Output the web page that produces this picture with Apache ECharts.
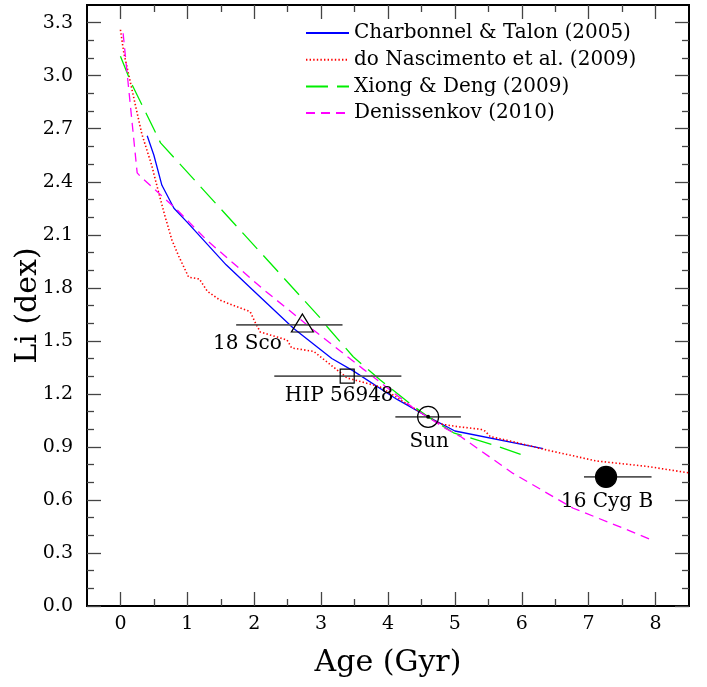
<!DOCTYPE html>
<html>
<head>
<meta charset="utf-8">
<script src="https://cdn.jsdelivr.net/npm/echarts@6/dist/echarts.min.js"></script>
<style>
  html, body { margin: 0; padding: 0; background: #fff; }
  #chart { width: 707px; height: 687px; }
</style>
</head>
<body>
<div id="chart"></div>
<script>
// Model tracks: lithium abundance (dex) against stellar age (Gyr)
const ctAge = [0.40, 0.50, 0.62, 0.80, 1.00, 1.58, 1.97, 2.59, 3.16, 3.48, 4.13, 4.60, 5.00, 6.32];
const ctLi  = [2.66, 2.55, 2.38, 2.25, 2.17, 1.93, 1.79, 1.57, 1.40, 1.33, 1.17, 1.07, 0.99, 0.89];

const dnAge = [0.00, 0.05, 0.15, 0.22, 0.32, 0.47, 0.57, 0.67, 0.77, 0.87, 1.02, 1.18, 1.30, 1.49, 1.69, 1.94, 2.02, 2.09, 2.49, 2.56, 2.89, 3.09, 3.24, 3.39, 3.88, 4.38, 4.78, 5.03, 5.38, 5.45, 5.53, 5.87, 6.32, 7.12, 7.87, 8.50];
const dnLi  = [3.26, 3.13, 2.96, 2.84, 2.67, 2.49, 2.34, 2.20, 2.07, 1.98, 1.86, 1.85, 1.78, 1.73, 1.70, 1.665, 1.60, 1.55, 1.505, 1.46, 1.44, 1.38, 1.335, 1.29, 1.24, 1.12, 1.03, 1.015, 1.00, 0.99, 0.958, 0.93, 0.887, 0.82, 0.79, 0.753];

const xdAge = [0.00, 0.16, 0.60, 3.01, 3.09, 3.48, 3.88, 4.38, 4.60, 4.98, 5.63, 6.00];
const xdLi  = [3.11, 2.96, 2.62, 1.62, 1.58, 1.41, 1.28, 1.13, 1.07, 0.98, 0.905, 0.855];

const dkAge = [0.04, 0.25, 0.30, 0.85, 1.29, 2.14, 2.89, 3.63, 4.38, 4.88, 5.08, 5.87, 6.77, 7.52, 7.98];
const dkLi  = [3.24, 2.45, 2.43, 2.24, 2.07, 1.79, 1.56, 1.34, 1.12, 1.00, 0.96, 0.75, 0.553, 0.44, 0.368];

const trackNames = ['Charbonnel & Talon (2005)', 'do Nascimento et al. (2009)', 'Xiong & Deng (2009)', 'Denissenkov (2010)'];

// Observed solar twins
const starNames = ['18 Sco', 'HIP 56948', 'Sun', '16 Cyg B'];
const starAge   = [2.72, 3.39, 4.60, 7.26];
const starAgeLo = [1.73, 2.30, 4.11, 6.93];
const starAgeHi = [3.32, 4.20, 5.09, 7.94];
const starLi    = [1.59, 1.30, 1.07, 0.73];

// Axis ticks
const xMajorTicks = [0, 1, 2, 3, 4, 5, 6, 7, 8];
const xMinorTicks = [0.5, 1.5, 2.5, 3.5, 4.5, 5.5, 6.5, 7.5];
const yMajorTicks = [0.0, 0.3, 0.6, 0.9, 1.2, 1.5, 1.8, 2.1, 2.4, 2.7, 3.0, 3.3];
const yMinorTicks = [0.1, 0.2, 0.4, 0.5, 0.7, 0.8, 1.0, 1.1, 1.3, 1.4, 1.6, 1.7, 1.9, 2.0, 2.2, 2.3, 2.5, 2.6, 2.8, 2.9, 3.1, 3.2];

// Marker styling for each star
const starStyle = [
  { symbol: 'triangle', size: [22, 18], offset: [0, -2], fill: 'none', label: [-55, 19] },
  { symbol: 'rect', size: 14, offset: [0, 0], fill: 'none', label: [-8, 20] },
  { symbol: 'circle', size: 21, offset: [0, 0], fill: 'none', label: [1, 25] },
  { symbol: 'circle', size: 21, offset: [0, 0], fill: '#000', label: [1, 25] }
];

const FONT = 'DejaVu Serif';
const zip = (a, b) => a.map((v, i) => [v, b[i]]);

function xAxisDef(position, ticks, len, withLabels) {
  return {
    type: 'value', position: position, min: -0.5, max: 8.5,
    axisLine: { show: true, onZero: false, lineStyle: { color: '#000', width: 2 } },
    axisTick: { show: true, inside: true, length: len, customValues: ticks, lineStyle: { color: '#444', width: 1.3 } },
    axisLabel: { show: withLabels, customValues: ticks, margin: 9, fontFamily: FONT, fontSize: 19, color: '#000' },
    splitLine: { show: false },
    name: withLabels ? 'Age (Gyr)' : '',
    nameLocation: 'middle', nameGap: 42, nameMoveOverlap: false,
    nameTextStyle: { fontFamily: FONT, fontSize: 30, color: '#000' }
  };
}
function yAxisDef(position, ticks, len, withLabels) {
  return {
    type: 'value', position: position, min: 0, max: 3.4,
    axisLine: { show: true, onZero: false, lineStyle: { color: '#000', width: 2 } },
    axisTick: { show: true, inside: true, length: len, customValues: ticks, lineStyle: { color: '#444', width: 1.3 } },
    axisLabel: { show: withLabels, customValues: ticks, margin: 14, fontFamily: FONT, fontSize: 19, color: '#000',
                 formatter: v => Number(v).toFixed(1) },
    splitLine: { show: false },
    name: withLabels ? 'Li (dex)' : '',
    nameLocation: 'middle', nameGap: 44, nameMoveOverlap: false,
    nameTextStyle: { fontFamily: FONT, fontSize: 30, color: '#000' }
  };
}

function track(name, ages, lis, color, dash, width) {
  return {
    type: 'line', name: name, data: zip(ages, lis),
    showSymbol: false, symbol: 'none', z: 2, animation: false,
    lineStyle: { color: color, width: width, type: dash },
    itemStyle: { color: color }
  };
}

const chart = echarts.init(document.getElementById('chart'), null, { renderer: 'canvas' });
chart.setOption({
  backgroundColor: '#fff',
  animation: false,
  grid: { left: 87, right: 18, top: 5, bottom: 81, containLabel: false, outerBoundsMode: 'none' },
  xAxis: [
    xAxisDef('bottom', xMajorTicks, 14, true),
    xAxisDef('bottom', xMinorTicks, 7, false),
    xAxisDef('top', xMajorTicks, 14, false),
    xAxisDef('top', xMinorTicks, 7, false)
  ],
  yAxis: [
    yAxisDef('left', yMajorTicks, 14, true),
    yAxisDef('left', yMinorTicks, 7, false),
    yAxisDef('right', yMajorTicks, 14, false),
    yAxisDef('right', yMinorTicks, 7, false)
  ],
  legend: {
    data: trackNames, orient: 'vertical', left: 305, top: 23, padding: 0,
    itemWidth: 43, itemHeight: 14, itemGap: 6.7,
    itemStyle: { opacity: 0 },
    textStyle: { fontFamily: FONT, fontSize: 20, lineHeight: 20, color: '#000' },
    selectedMode: false
  },
  series: [
    track(trackNames[0], ctAge, ctLi, '#0000ff', 'solid', 1.3),
    track(trackNames[1], dnAge, dnLi, '#ff0000', [1.4, 2.2], 1.6),
    track(trackNames[2], xdAge, xdLi, '#00ee00', [22, 9], 1.3),
    track(trackNames[3], dkAge, dkLi, '#ff00ff', [9, 6], 1.3),
    {
      // horizontal age uncertainty bars
      type: 'custom', name: 'ageBars', z: 3,
      data: starAge.map((a, i) => [a, starAgeLo[i], starAgeHi[i], starLi[i]]),
      encode: { x: [0, 1, 2], y: 3 },
      renderItem: (params, api) => {
        const lo = api.coord([api.value(1), api.value(3)]);
        const hi = api.coord([api.value(2), api.value(3)]);
        return { type: 'line', shape: { x1: lo[0], y1: lo[1], x2: hi[0], y2: hi[1] },
                 style: { stroke: '#555', lineWidth: 1.8 } };
      }
    },
    {
      type: 'scatter', name: 'stars', z: 4,
      data: starAge.map((a, i) => ({
        value: [a, starLi[i]],
        symbol: starStyle[i].symbol,
        symbolSize: starStyle[i].size,
        symbolOffset: starStyle[i].offset,
        itemStyle: { color: starStyle[i].fill, borderColor: '#000', borderWidth: 1.2, opacity: 1 }
      }))
    },
    {
      // centre dot of the solar symbol
      type: 'scatter', name: 'sunDot', z: 5,
      data: [[starAge[2], starLi[2]]],
      symbol: 'circle', symbolSize: 4,
      itemStyle: { color: '#000', opacity: 1 }
    },
    {
      type: 'custom', name: 'starLabels', z: 5,
      data: starAge.map((a, i) => [a, starLi[i], i]),
      encode: { x: 0, y: 1 },
      renderItem: (params, api) => {
        const i = api.value(2);
        const p = api.coord([api.value(0), api.value(1)]);
        const off = starStyle[i].label;
        return { type: 'text', x: p[0] + off[0], y: p[1] + off[1],
                 style: { text: starNames[i], fontFamily: FONT, fontSize: 20, fill: '#000',
                          align: 'center', verticalAlign: 'middle' } };
      }
    }
  ]
});
</script>
</body>
</html>
